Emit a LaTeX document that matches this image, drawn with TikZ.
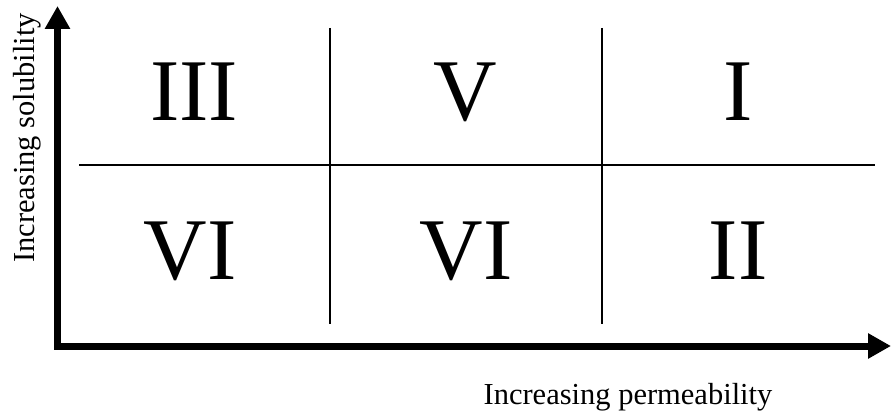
\documentclass[tikz,border=0pt]{standalone}
\usepackage{fontspec}
\setmainfont{Liberation Serif}
\usetikzlibrary{arrows.meta}

\begin{document}
\begin{tikzpicture}[
    x=1pt, y=-1pt,
    axis/.style={-{Triangle[length=23pt, width=24pt]}, line width=7pt},
    grid/.style={line width=2pt},
    region/.style={inner sep=0pt, font=\fontsize{88}{88}\selectfont},
    axislabel/.style={inner sep=0pt, anchor=base, font=\fontsize{30.5}{30.5}\selectfont},
]
\useasboundingbox (0, 0) rectangle (891, 414);

% --- Axes ---
\coordinate (origin) at (57.5, 346);
\coordinate (ytip) at (57.5, 6);
\coordinate (xtip) at (891, 346);
\draw[axis] ([yshift=-3.5pt]origin) -- (ytip);
\draw[axis] ([xshift=-3.5pt]origin) -- (xtip);

% --- Grid ---
\coordinate (hleft) at (79, 165);
\coordinate (hright) at (875, 165);
\coordinate (v1top) at (330, 28);
\coordinate (v1bot) at (330, 324);
\coordinate (v2top) at (602, 28);
\coordinate (v2bot) at (602, 324);
\draw[grid] (hleft) -- (hright);
\draw[grid] (v1top) -- (v1bot);
\draw[grid] (v2top) -- (v2bot);

% --- Classes ---
\node[region] (c3) at (194, 92) {III};
\node[region] (c5) at (465, 92) {V};
\node[region] (c1) at (738, 92) {I};
\node[region] (c6a) at (190, 251) {VI};
\node[region] (c6b) at (466, 251) {VI};
\node[region] (c2) at (738, 251) {II};

% --- Axis labels ---
\node[axislabel, rotate=90] (ylabel) at (34, 138) {Increasing solubility};
\node[axislabel] (xlabel) at (628, 404) {Increasing permeability};
\end{tikzpicture}
\end{document}
